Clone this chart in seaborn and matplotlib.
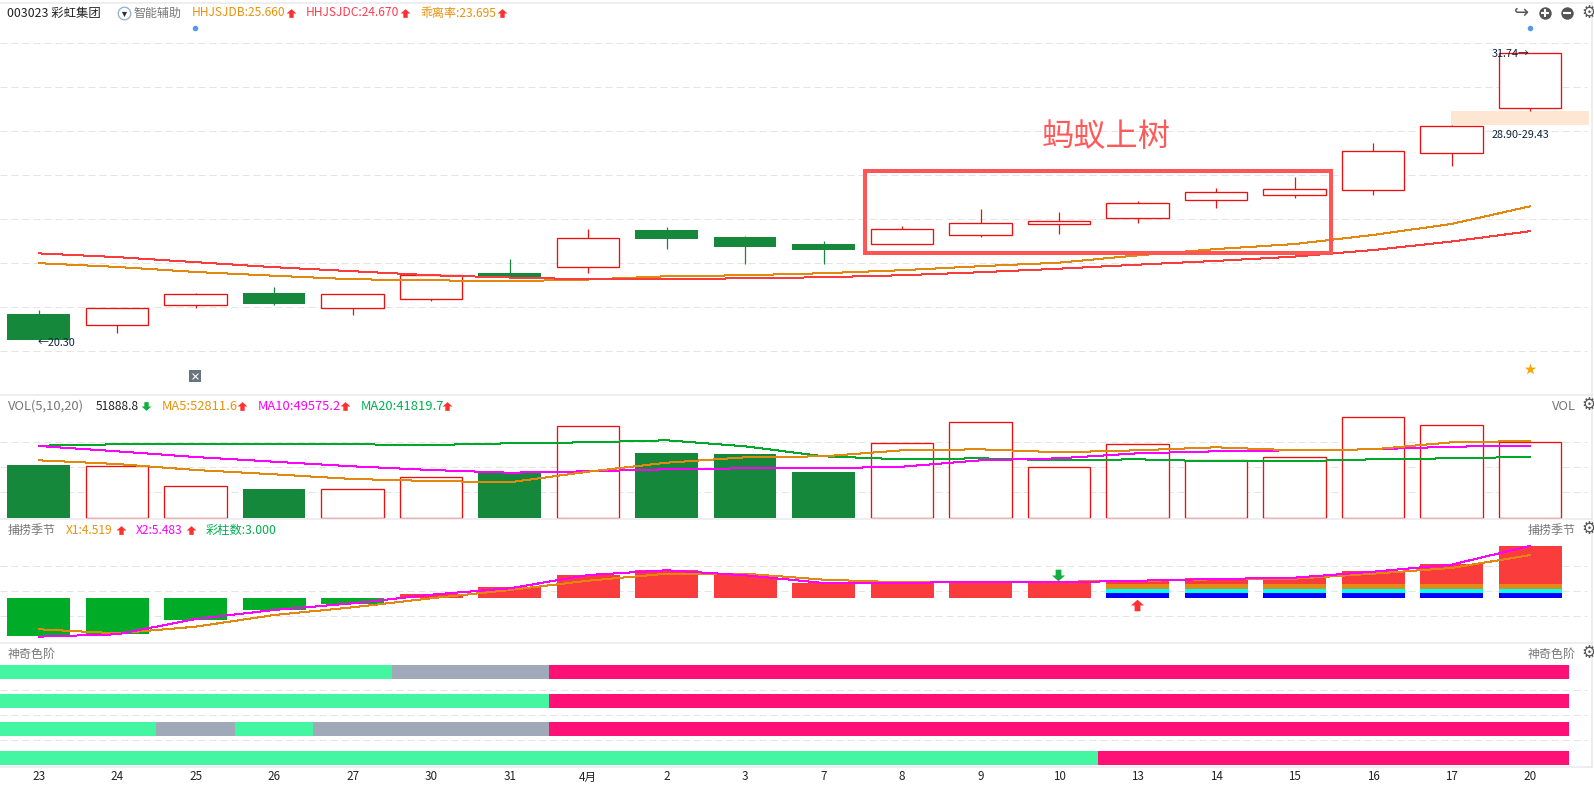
import numpy as np
import pandas as pd
import matplotlib
matplotlib.use("Agg")
import matplotlib.pyplot as plt
from matplotlib.path import Path
from matplotlib.patches import Rectangle
import seaborn as sns

# ---------- data ----------
dates = ["23","24","25","26","27","30","31","4月","2","3","7","8","9","10","13","14","15","16","17","20"]
body_top = [21.38,21.61,22.17,22.22,22.17,22.92,23.01,24.39,24.72,24.44,24.16,24.75,24.99,25.07,25.78,26.22,26.34,27.85,28.84,31.74]
body_bot = [20.35,20.96,21.75,21.78,21.63,21.99,22.81,23.26,24.36,24.04,23.93,24.18,24.53,24.97,25.21,25.92,26.12,26.32,27.77,29.55]
high = [21.54,21.61,22.22,22.46,22.17,22.98,23.57,24.76,24.84,24.48,24.28,24.88,25.55,25.43,25.87,26.39,26.83,28.18,28.89,31.74]
low = [20.30,20.63,21.62,21.74,21.34,21.90,22.81,23.01,23.97,23.37,23.37,24.18,24.44,24.56,25.00,25.59,25.99,26.11,27.26,29.46]
is_up = [0,1,1,0,1,1,0,1,0,0,0,1,1,1,1,1,1,1,1,1]
hhjsjdc = [23.79,23.64,23.44,23.24,23.08,22.92,22.83,22.76,22.76,22.80,22.84,22.92,23.04,23.18,23.34,23.49,23.66,23.92,24.26,24.67]
hhjsjdb = [23.40,23.25,23.05,22.90,22.76,22.72,22.68,22.75,22.88,22.92,23.00,23.12,23.28,23.42,23.71,23.96,24.16,24.52,24.96,25.66]
zone_low, zone_high = 28.90, 29.43

volume = [36225,35742,21942,19665,19458,28152,30705,62928,44505,43815,31395,51198,65688,34638,50508,39468,41538,69138,63618,51889]
ma5 = [39468,36915,32775,29808,26565,25185,24288,31602,37812,41538,42228,46368,47058,44988,46368,48438,46368,47058,51888,52812]
ma10 = [49335,45678,41745,38502,35328,32775,30912,31878,33258,33948,33948,35052,39468,40848,44298,45678,46368,47058,48852,49575]
ma20 = [49542,50508,50508,50508,50508,50025,51198,51888,53268,49128,42228,40158,40848,39468,40158,38778,38778,40158,40848,41820]

season_bar = [-4.00,-3.79,-2.32,-1.26,-0.63,0.42,1.16,2.42,2.95,2.42,1.58,1.58,1.79,1.68,1.89,2.11,2.21,2.84,3.58,5.47]
x1_line = [-3.29,-3.72,-3.02,-1.79,-0.98,-0.03,0.84,1.82,2.56,2.56,1.93,1.65,1.65,1.72,1.79,1.97,2.03,2.56,3.16,4.519]
x2_line = [-4.07,-3.82,-2.21,-1.26,-0.56,0.35,1.02,2.42,2.92,2.39,1.58,1.58,1.72,1.65,1.82,2.00,2.14,2.77,3.51,5.483]
rainbow_idx = [14,15,16,17,18,19]
rainbow_orange = [1.47]*6
rainbow_cyan = [0.95]*6
rainbow_blue = [0.53]*6

# 0 = green, 1 = gray, 2 = pink
row1 = [0,0,0,0,0,1,1,2,2,2,2,2,2,2,2,2,2,2,2,2]
row2 = [0,0,0,0,0,0,0,2,2,2,2,2,2,2,2,2,2,2,2,2]
row3 = [0,0,1,0,1,1,1,2,2,2,2,2,2,2,2,2,2,2,2,2]
row4 = [0,0,0,0,0,0,0,0,0,0,0,0,0,0,2,2,2,2,2,2]

price_grid = [32.14,30.39,28.64,26.89,25.14,23.40,21.65,19.90]
vol_grid = [51888,34638,17388]
season_grid = [3.34,0.705,-1.93]
row_grid = [0.64,1.51,2.38]

# ---------- style ----------
sns.set_theme(style="white")
FONT = ["Noto Sans CJK SC", "DejaVu Sans"]
plt.rcParams["font.family"] = FONT
W, H = 1594, 786
GREEN, RED, LRED, ORANGE, MAG = "#15883c", "#ec1010", "#fa3c3c", "#e2880f", "#ff00ff"
LGREEN, GRID, SEP = "#00a82a", "#e4e4e4", "#e8e8ef"
fig = plt.figure(figsize=(W/100, H/100), dpi=100, facecolor="white")
idx = np.arange(len(dates))
LEFT, PITCH, RIGHT = 38.6, 78.5, 1592
xlim = (-LEFT/PITCH, (RIGHT-LEFT)/PITCH)
xend = (1587-LEFT)/PITCH
BW = 0.795

def panel(y0, y1, ylim):
    ax = fig.add_axes([0, 1-y1/H, RIGHT/W, (y1-y0)/H])
    ax.set_facecolor("white")
    for s in ("left", "bottom"):
        ax.spines[s].set_visible(False)
    for s in ("top", "right"):
        ax.spines[s].set_visible(True)
        ax.spines[s].set_color(SEP)
        ax.spines[s].set_linewidth(1.1)
    return ax

def finish(ax, ylim, grid):
    ax.hlines(grid, xlim[0], xend, color=GRID, lw=0.72, linestyles=(0, (7, 4)), zorder=0)
    ax.set_xlim(*xlim)
    ax.set_ylim(*ylim)
    ax.set_xlabel(""); ax.set_ylabel("")
    ax.set_xticks([]); ax.set_yticks([])

def line(ax, y, c):
    sns.lineplot(x=idx, y=y, color=c, lw=0.72, ax=ax, estimator=None, errorbar=None,
                 antialiased=False, sort=False, legend=False, zorder=5)

# ---------- main panel ----------
ax = panel(3, 395, None)
up = np.array(is_up, bool)
top, bot = np.array(body_top), np.array(body_bot)
ax.fill_between([(1451-LEFT)/PITCH, (1589-LEFT)/PITCH], zone_low, zone_high, color="#fde6d2", lw=0, zorder=1)
wc = [RED if u else GREEN for u in up]
ax.vlines(idx, low, high, colors=wc, lw=0.9, zorder=2)
ax.bar(idx[up], (top-bot)[up], bottom=bot[up], width=BW, facecolor="white", edgecolor=RED, lw=0.95, zorder=3)
ax.bar(idx[~up], (top-bot)[~up], bottom=bot[~up], width=BW, facecolor=GREEN, edgecolor="none", zorder=3)
line(ax, hhjsjdb, ORANGE)
line(ax, hhjsjdc, LRED)
finish(ax, (18.16, 33.74), price_grid)

# ---------- volume panel ----------
ax = panel(395, 519, None)
dv = pd.DataFrame({"i": idx, "v": volume, "up": up})
sns.barplot(data=dv[dv.up], x="i", y="v", native_scale=True, width=BW, color="white", saturation=1,
            edgecolor=RED, linewidth=0.95, errorbar=None, ax=ax, zorder=3)
sns.barplot(data=dv[~dv.up], x="i", y="v", native_scale=True, width=BW, color=GREEN, saturation=1,
            linewidth=0, errorbar=None, ax=ax, zorder=3)
line(ax, ma20, LGREEN)
line(ax, ma10, MAG)
line(ax, ma5, ORANGE)
finish(ax, (-1035, 84525), vol_grid)

# ---------- season panel ----------
ax = panel(519, 643, None)
ds = pd.DataFrame({"i": idx, "v": season_bar})
kw = dict(x="i", y="v", native_scale=True, width=BW + 0.01, saturation=1, linewidth=0, errorbar=None, ax=ax, zorder=3)
sns.barplot(data=ds[ds.v < 0], color="#00ab28", **kw)
sns.barplot(data=ds[ds.v >= 0], color=LRED, **kw)
for vals, c in ((rainbow_orange, "#e38a14"), (rainbow_cyan, "#00ffff"), (rainbow_blue, "#0000ff")):
    sns.barplot(data=pd.DataFrame({"i": rainbow_idx, "v": vals}), color=c, **kw)
line(ax, x1_line, ORANGE)
line(ax, x2_line, MAG)
finish(ax, (-4.737, 8.316), season_grid)

# ---------- colour-step panel ----------
ax = panel(643, 767, None)
state_colors = ["#44f5a2", "#a0a9b8", "#ff1077"]
for r, row in enumerate((row1, row2, row3, row4)):
    ax.bar(idx, [0.488]*len(idx), bottom=r-0.244, width=1.0, color=[state_colors[s] for s in row], lw=0, zorder=3)
finish(ax, (3.31, -1.01), row_grid)
ax.set_xticks(idx, dates, fontsize=8.4, color="#222222")
ax.tick_params(axis="x", length=0, pad=2.5)
ax.spines["bottom"].set_visible(True)
ax.spines["bottom"].set_color(SEP)
ax.spines["bottom"].set_linewidth(1.1)

# ---------- overlay: texts, icons, annotation ----------
ov = fig.add_axes([0, 0, 1, 1], zorder=10)
ov.axis("off"); ov.patch.set_alpha(0)
ov.set_xlim(0, W); ov.set_ylim(H, 0)

def T(x, y, s, c="#777777", size=8.64, ha="left"):
    ov.text(x, y, s, color=c, fontsize=size, ha=ha, va="center", family=FONT)

arrow = Path([(-.2,.5),(.2,.5),(.2,.0),(.45,.0),(0,-.5),(-.45,.0),(-.2,.0),(-.2,.5)])
arrow_up = Path(arrow.vertices * [1.25, 1])
arrow_dn = Path(arrow.vertices * [1.25, -1])
def A(x, y, up_=True, s=50):
    ov.scatter([x], [y], s=s, marker=arrow_dn if up_ else arrow_up,
               color="#ff3030" if up_ else "#10b040", lw=0, zorder=12)

# top header
T(7, 13, "003023 彩虹集团", "#222222", 8.9)
ov.scatter([124], [13], s=82, facecolor="white", edgecolor="#8ab0c8", lw=0.9)
ov.scatter([124], [13.5], s=14, marker="v", color="#333333", lw=0)
T(134, 13, "智能辅助")
T(192, 13, "HHJSJDB:25.660", "#e8920c"); A(291, 13)
T(306, 13, "HHJSJDC:24.670", "#ff3a4f"); A(405, 13)
T(420, 13, "乖离率:23.695", "#e8920c"); A(502, 13)
ov.scatter([195, 1530], [28, 28], s=16, color="#5599ee", lw=0)

# top right icons
T(1522, 13, "↪", "#555555", 13, "center")
ov.scatter([1545, 1567], [13, 13], s=80, color="#555555", lw=0)
ov.scatter([1545], [13], s=28, marker="+", color="white", lw=1.5)
ov.scatter([1567], [13], s=28, marker="_", color="white", lw=1.5)
for y in (13, 406, 530, 654):
    T(1589, y, "⚙", "#555555", 12, "center")

# price labels
T(1492, 54, "31.74→", "#10243c", 7.8)
T(1492, 135, "28.90-29.43", "#10243c", 7.8)
T(38, 343, "←20.30", "#10243c", 7.8)

# pattern annotation
ov.add_patch(Rectangle((865, 170.7), 466, 82, fill=False, edgecolor="#ff5555", lw=2.9, zorder=9))
T(1106, 137, "蚂蚁上树", "#ff5a5a", 23.2, "center")

# small marks in main panel
ov.scatter([195], [376], s=70, marker="s", color="#6b7280", lw=0)
ov.scatter([195], [376], s=18, marker="x", color="white", lw=0.8)
ov.scatter([1530], [369], s=75, marker="*", color="#f5a800", lw=0)

# volume header
T(8, 406, "VOL(5,10,20)", size=9.3)
T(96, 406, "51888.8", "#222222"); A(146, 406, False)
T(162, 406, "MA5:52811.6", "#e8920c", 9.3); A(242, 406)
T(258, 406, "MA10:49575.2", MAG, 9.3); A(345, 406)
T(361, 406, "MA20:41819.7", "#00b050", 9.3); A(447, 406)
T(1576, 406, "VOL", ha="right", size=9.3)

# season header
T(8, 530, "捕捞季节")
T(66, 530, "X1:4.519", "#e8920c"); A(121, 530)
T(136, 530, "X2:5.483", MAG); A(191, 530)
T(206, 530, "彩柱数:3.000", "#00b050", 8.8)
T(1576, 530, "捕捞季节", ha="right")
A(1058, 574.5, False, 88)
A(1137, 605, True, 88)

# colour-step header
T(8, 654, "神奇色阶")
T(1576, 654, "神奇色阶", ha="right")

fig.savefig("out.png", dpi=100, facecolor="white")
